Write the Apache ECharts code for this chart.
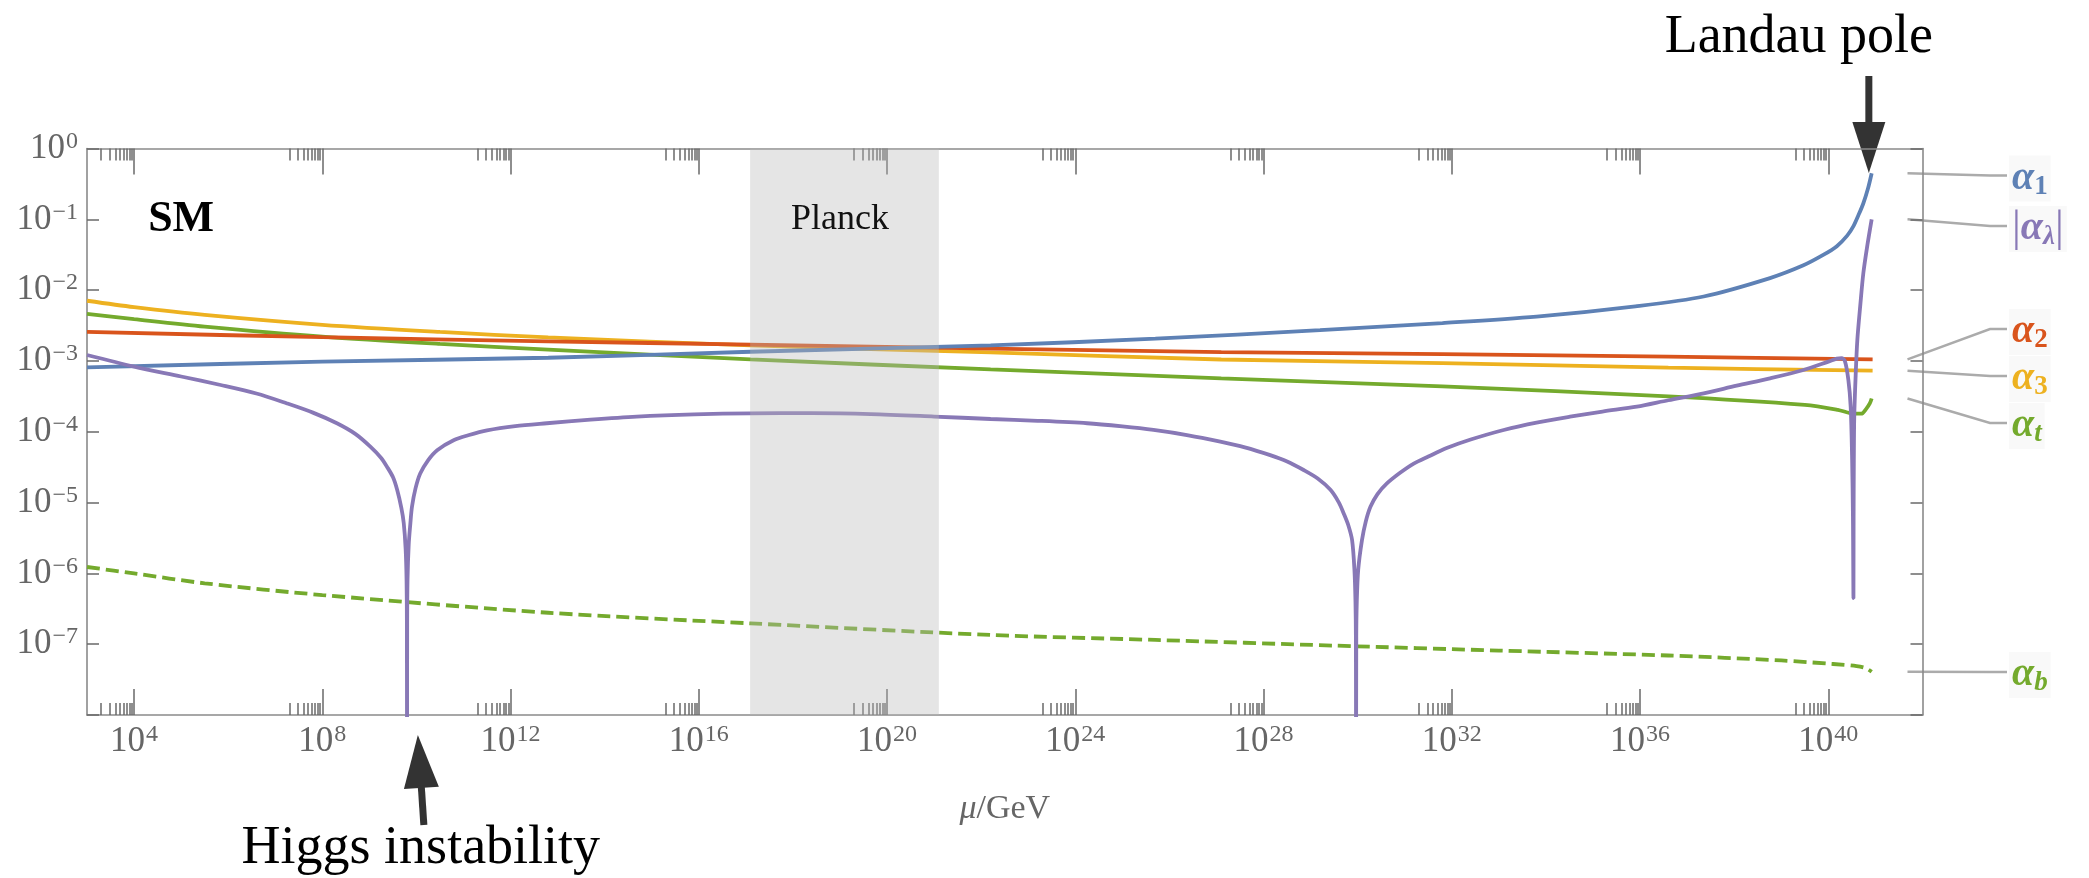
<!DOCTYPE html>
<html>
<head>
<meta charset="utf-8">
<script src="https://cdn.jsdelivr.net/npm/echarts@6/dist/echarts.min.js"></script>
<style>
html,body{margin:0;padding:0;background:#fff;}
#c{width:2089px;height:878px;}
</style>
</head>
<body>
<div id="c"></div>
<script>
// All x values are log10(mu/GeV), all y values are log10(coupling).
const xMajorExps = [4, 8, 12, 16, 20, 24, 28, 32, 36, 40];
const yTickExps = [0, -1, -2, -3, -4, -5, -6, -7];
const minorMultipliers = [2, 3, 4, 5, 6, 7, 8, 9];
const planckBand = [17.09, 21.1];
const smLabelPos = [5, -1];
const planckLabelPos = [19, -1];
const landauPoleX = 40.86;
const higgsArrowX = 10.03;

const alpha1 = [[3.0,-3.09],[8.0,-3.01],[12.8,-2.955],[17.1,-2.87],[22.2,-2.78],[25.7,-2.685],[29.2,-2.565],[31.8,-2.465],[33.8,-2.375],[35.9,-2.23],[37.35,-2.09],[38.76,-1.83],[39.47,-1.65],[39.9,-1.5],[40.18,-1.38],[40.4,-1.23],[40.53,-1.1],[40.64,-0.94],[40.74,-0.78],[40.84,-0.57],[40.92,-0.35]];
const alpha2 = [[3.0,-2.59],[8.0,-2.665],[12.8,-2.723],[17.1,-2.77],[22.2,-2.825],[27.1,-2.875],[31.8,-2.905],[36.6,-2.94],[40.94,-2.977]];
const alpha3 = [[3.0,-2.15],[4.0,-2.24],[5.5,-2.35],[8.0,-2.49],[10.5,-2.59],[12.8,-2.667],[17.1,-2.78],[22.2,-2.88],[27.1,-2.98],[31.8,-3.03],[36.6,-3.095],[40.94,-3.137]];
const alphaT = [[3.0,-2.335],[4.0,-2.41],[5.5,-2.516],[8.0,-2.657],[10.5,-2.76],[12.8,-2.84],[17.1,-2.977],[22.2,-3.12],[27.1,-3.246],[31.8,-3.36],[36.6,-3.5],[39.5,-3.62],[40.2,-3.69],[40.55,-3.745],[40.7,-3.745],[40.8,-3.68],[40.88,-3.6],[40.92,-3.53]];
const alphaB = [[3.0,-5.91],[4.0,-6.0],[5.5,-6.14],[8.0,-6.306],[12.8,-6.556],[17.1,-6.706],[22.2,-6.87],[25.7,-6.94],[29.5,-7.02],[33.0,-7.09],[36.6,-7.16],[39.0,-7.23],[40.1,-7.28],[40.6,-7.31],[40.8,-7.34],[40.92,-7.39]];
const alphaLambda = [[3.0,-2.916],[4.0,-3.08],[5.0,-3.22],[5.84,-3.34],[6.6,-3.46],[7.25,-3.6],[7.8,-3.73],[8.31,-3.88],[8.7,-4.03],[9.02,-4.21],[9.25,-4.37],[9.37,-4.49],[9.5,-4.64],[9.59,-4.82],[9.68,-5.08],[9.73,-5.29],[9.77,-5.65],[9.79,-6.1],[9.797,-6.7],[9.8,-9.5],[9.803,-6.7],[9.81,-6.1],[9.835,-5.6],[9.87,-5.3],[9.905,-5.06],[9.98,-4.8],[10.08,-4.59],[10.25,-4.4],[10.44,-4.26],[10.79,-4.12],[11.1,-4.05],[11.5,-3.98],[12.1,-3.92],[12.77,-3.88],[13.7,-3.83],[14.68,-3.787],[15.9,-3.755],[17.09,-3.74],[18.4,-3.738],[19.65,-3.75],[21.0,-3.785],[22.2,-3.82],[23.2,-3.845],[24.25,-3.88],[25.0,-3.925],[25.66,-3.975],[26.4,-4.05],[27.08,-4.14],[27.6,-4.22],[28.14,-4.33],[28.5,-4.42],[28.85,-4.54],[29.15,-4.66],[29.42,-4.82],[29.6,-5.0],[29.7,-5.15],[29.8,-5.32],[29.88,-5.53],[29.93,-5.95],[29.952,-6.4],[29.961,-6.9],[29.965,-9.5],[29.969,-6.9],[29.98,-6.4],[30.01,-5.95],[30.09,-5.53],[30.17,-5.27],[30.27,-5.06],[30.42,-4.88],[30.62,-4.73],[30.9,-4.58],[31.19,-4.45],[31.5,-4.35],[31.89,-4.23],[32.4,-4.11],[33.1,-3.975],[33.8,-3.87],[34.51,-3.787],[35.2,-3.715],[35.93,-3.646],[36.6,-3.555],[37.35,-3.458],[38.05,-3.35],[38.76,-3.246],[39.47,-3.128],[40.0,-3.01],[40.18,-2.968],[40.28,-2.962],[40.35,-3.0],[40.425,-3.27],[40.474,-3.65],[40.505,-4.4],[40.522,-5.2],[40.533,-6.35],[40.536,-5.2],[40.541,-4.4],[40.55,-3.79],[40.58,-3.2],[40.616,-2.7],[40.68,-2.2],[40.743,-1.76],[40.83,-1.36],[40.92,-1.0]];

const colors = {
  a1: '#5E81B5', a2: '#D9541C', a3: '#EDB120', at: '#74AA2D', ab: '#74AA2D', al: '#8878B6'
};
const serif = '"Liberation Serif", "DejaVu Serif", serif';
const tickGray = '#6a6a6a';
const frameGray = '#8a8a8a';
const lineW = 3.8;

const xMinorExps = [];
xMajorExps.forEach(e => minorMultipliers.forEach(m => xMinorExps.push(e - 1 + Math.log10(m))));

function powLabel(v) {
  const n = Math.round(v);
  return '{b|10}{s|' + (n < 0 ? '\u2212' + (-n) : String(n)) + '}';
}
const tickRich = {
  b: {fontFamily: serif, fontSize: 35, color: '#666', lineHeight: 38},
  s: {fontFamily: serif, fontSize: 24, color: '#666', lineHeight: 19, verticalAlign: 'top', padding: [0, 0, 0, 1]}
};

function xAxisDef(pos, ticks, len, withLine, withLabels) {
  const a = {
    type: 'value', gridIndex: 0, position: pos, min: 3, max: 42,
    splitLine: {show: false},
    axisLine: {show: withLine, onZero: false, lineStyle: {color: frameGray, width: 1.6}},
    axisTick: {show: true, inside: true, length: len, customValues: ticks, lineStyle: {color: tickGray, width: 1.5}},
    axisLabel: {show: false},
    axisPointer: {show: false}
  };
  if (withLabels) {
    a.axisLabel = {show: true, customValues: xMajorExps, formatter: powLabel, rich: tickRich, margin: 8};
    a.name = '{i|\u03bc}/GeV';
    a.nameLocation = 'middle';
    a.nameGap = 77;
    a.nameTextStyle = {fontFamily: serif, fontSize: 34, color: '#666',
      rich: {i: {fontFamily: serif, fontSize: 34, fontStyle: 'italic', color: '#666'}}};
  }
  return a;
}
function yAxisDef(pos, withLabels) {
  return {
    type: 'value', gridIndex: 0, position: pos, min: -8, max: 0, interval: 1,
    splitLine: {show: false},
    axisLine: {show: true, onZero: false, lineStyle: {color: frameGray, width: 1.6}},
    axisTick: {show: true, inside: true, length: 12, lineStyle: {color: tickGray, width: 1.5}},
    axisLabel: withLabels ? {
      show: true, margin: 9, showMinLabel: true, showMaxLabel: true,
      formatter: v => (yTickExps.indexOf(Math.round(v)) >= 0 ? powLabel(v) : ''), rich: tickRich
    } : {show: false}
  };
}
function lineSeries(name, color, data, extra) {
  return Object.assign({
    type: 'line', name: name, data: data, xAxisIndex: 0, yAxisIndex: 0,
    symbol: 'none', showSymbol: false, clip: true, animation: false, silent: true,
    lineStyle: {color: color, width: lineW}, itemStyle: {color: color}, z: 2
  }, extra || {});
}

const option = {
  animation: false,
  backgroundColor: '#ffffff',
  textStyle: {fontFamily: serif},
  grid: {left: 87, top: 148.5, width: 1835.5, height: 566.5, outerBoundsMode: 'none', containLabel: false},
  xAxis: [
    xAxisDef('bottom', xMajorExps, 26, true, true),
    xAxisDef('bottom', xMinorExps, 12, false, false),
    xAxisDef('top', xMajorExps, 26, true, false),
    xAxisDef('top', xMinorExps, 12, false, false)
  ],
  yAxis: [yAxisDef('left', true), yAxisDef('right', false)],
  series: [
    lineSeries('alpha_b', colors.ab, alphaB, {smooth: 0.3, lineStyle: {color: colors.ab, width: lineW, type: [13, 6]}}),
    lineSeries('alpha_t', colors.at, alphaT, {smooth: 0.3}),
    lineSeries('alpha_3', colors.a3, alpha3, {smooth: 0.3}),
    lineSeries('alpha_2', colors.a2, alpha2, {smooth: 0.3}),
    lineSeries('alpha_1', colors.a1, alpha1, {smooth: 0.3}),
    lineSeries('alpha_lambda', colors.al, alphaLambda, {smooth: 0.3}),
    {
      type: 'line', name: 'planck', data: [], xAxisIndex: 0, yAxisIndex: 0, silent: true, animation: false,
      markArea: {
        silent: true, z: 3,
        itemStyle: {color: 'rgba(185,185,185,0.37)'},
        data: [[{xAxis: planckBand[0]}, {xAxis: planckBand[1]}]]
      },
      markPoint: {
        silent: true, z: 5, symbol: 'circle', symbolSize: 1,
        itemStyle: {color: 'rgba(0,0,0,0)'},
        data: [
          {name: 'SM', coord: smLabelPos,
           label: {show: true, position: 'inside', formatter: '{b}', fontFamily: serif, fontSize: 44, fontWeight: 'bold', color: '#000'}},
          {name: 'Planck', coord: planckLabelPos,
           label: {show: true, position: 'inside', formatter: '{b}', fontFamily: serif, fontSize: 36, color: '#111'}}
        ]
      }
    }
  ]
};

const chart = echarts.init(document.getElementById('c'), null, {renderer: 'canvas', width: 2089, height: 878});
chart.setOption(option);

const toPx = (x, y) => chart.convertToPixel({xAxisIndex: 0, yAxisIndex: 0}, [x, y]);
const last = arr => arr[arr.length - 1];

function buildGraphics() {
  const g = [];
  const top = toPx(3, 0)[1];
  const bot = toPx(3, -8)[1];
  const right = toPx(42, 0)[0];
  const dark = '#333333';

  // Landau pole arrow and text
  const lx = toPx(landauPoleX, 0)[0];
  g.push({type: 'rect', silent: true, shape: {x: lx - 3.5, y: top - 72.5, width: 7, height: 48}, style: {fill: dark}});
  g.push({type: 'polygon', silent: true, shape: {points: [[lx - 16.5, top - 26.5], [lx + 16.5, top - 26.5], [lx, top + 24.5]]}, style: {fill: dark}});
  g.push({type: 'text', silent: true, style: {x: lx - 70, y: 38, text: 'Landau pole', font: '54px ' + serif, fill: '#000', align: 'center', verticalAlign: 'middle'}});

  // Higgs instability arrow and text
  const hx = toPx(higgsArrowX, 0)[0];
  const tip = [hx, bot + 20];
  const tail = [hx + 6, bot + 110];
  const dx = tail[0] - tip[0], dy = tail[1] - tip[1];
  const L = Math.sqrt(dx * dx + dy * dy);
  const u = [dx / L, dy / L];
  const n = [u[1], -u[0]];
  const base = [tip[0] + u[0] * 53, tip[1] + u[1] * 53];
  g.push({type: 'polygon', silent: true, shape: {points: [
    [base[0] + n[0] * 17.5, base[1] + n[1] * 17.5], [base[0] - n[0] * 17.5, base[1] - n[1] * 17.5], tip]}, style: {fill: dark}});
  g.push({type: 'polygon', silent: true, shape: {points: [
    [base[0] + n[0] * 3.5 - u[0] * 2, base[1] + n[1] * 3.5 - u[1] * 2], [base[0] - n[0] * 3.5 - u[0] * 2, base[1] - n[1] * 3.5 - u[1] * 2],
    [tail[0] - n[0] * 3.5, tail[1] - n[1] * 3.5], [tail[0] + n[0] * 3.5, tail[1] + n[1] * 3.5]]}, style: {fill: dark}});
  g.push({type: 'text', silent: true, style: {x: hx + 3, y: bot + 133.5, text: 'Higgs instability', font: '54px ' + serif, fill: '#000', align: 'center', verticalAlign: 'middle'}});

  // Callout labels on the right
  const callouts = [
    {data: alpha1, color: colors.a1, ly: 175.6, text: '{a|\u03b1}{s|1}'},
    {data: alphaLambda, color: colors.al, ly: 226, text: '{p||}{a|\u03b1}{si|\u03bb}{p||}'},
    {data: alpha2, color: colors.a2, ly: 329, text: '{a|\u03b1}{s|2}'},
    {data: alpha3, color: colors.a3, ly: 376, text: '{a|\u03b1}{s|3}'},
    {data: alphaT, color: colors.at, ly: 423, text: '{a|\u03b1}{si|t}'},
    {data: alphaB, color: colors.ab, ly: 672, text: '{a|\u03b1}{si|b}'}
  ];
  const sx = right - 15;
  callouts.forEach(c => {
    const sy = toPx(last(c.data)[0], last(c.data)[1])[1];
    g.push({type: 'polyline', silent: true, shape: {points: [[sx, sy], [1990, c.ly], [2007, c.ly]]},
      style: {stroke: '#ababab', lineWidth: 2.5, fill: null}});
    g.push({type: 'text', silent: true, style: {
      x: 2009, y: c.ly + 3, text: c.text, align: 'left', verticalAlign: 'middle',
      backgroundColor: 'rgba(248,248,248,0.8)', padding: [1, 3, 1, 3],
      rich: {
        a: {fontFamily: serif, fontSize: 40, fontStyle: 'italic', fontWeight: 'bold', fill: c.color, lineHeight: 44},
        s: {fontFamily: serif, fontSize: 27, fontWeight: 'bold', fill: c.color, lineHeight: 23, verticalAlign: 'bottom'},
        si: {fontFamily: serif, fontSize: 27, fontStyle: 'italic', fontWeight: 'bold', fill: c.color, lineHeight: 23, verticalAlign: 'bottom'},
        p: {fontFamily: serif, fontSize: 44, fill: c.color, lineHeight: 44}
      }
    }});
  });
  return g;
}
chart.setOption({graphic: buildGraphics()});
</script>
</body>
</html>
